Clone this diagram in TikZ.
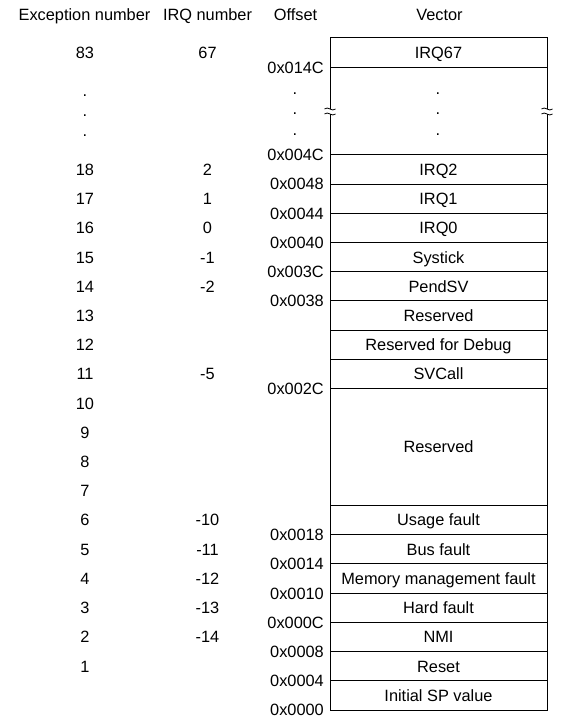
\documentclass[tikz,border=0pt]{standalone}
\usepackage{fontspec}
\setmainfont{Liberation Sans}
\newcommand\vcell[4]{%
  \pgfmathsetmacro\vcY{38+(#2+#3/2)*29.2174}%
  \pgfmathsetmacro\vcH{#3*29.2174}%
  \node[cellbox, minimum height=\vcH bp] (#1) at (438.5,\vcY) {#4};}
\newcommand\brk[1]{%
  \fill[white] (#1-3,109.2) rectangle (#1+3,113.8);
  \draw[brkline] (#1-5.5,109) sin (#1-2.75,108) cos (#1,109) sin (#1+2.75,110) cos (#1+5.5,109);
  \draw[brkline] (#1-5.5,114) sin (#1-2.75,113) cos (#1,114) sin (#1+2.75,115) cos (#1+5.5,114);}
\begin{document}
\begin{tikzpicture}[x=1bp,y=-1bp,
  font=\fontsize{16.4}{20}\selectfont,
  lbl/.style={inner sep=0pt, text height=11.8bp, text depth=0pt},
  cellbox/.style={draw, line width=1bp, minimum width=217bp, inner sep=0pt, text height=11.8bp, text depth=0pt},
  brkline/.style={line width=0.8bp},
  dotlbl/.style={inner sep=0pt, anchor=base}]
\useasboundingbox (0,0) rectangle (564,724);
% headers
\node[lbl] (hexc) at (84.5,15) {Exception number};
\node[lbl] (hirq) at (207.5,15) {IRQ number};
\node[lbl] (hoff) at (295.5,15) {Offset};
\node[lbl] (hvec) at (439.5,15) {Vector};
% vector table
\vcell{v0}{0}{1}{IRQ67}
\vcell{vgap}{1}{3}{}
\vcell{v4}{4}{1}{IRQ2}
\vcell{v5}{5}{1}{IRQ1}
\vcell{v6}{6}{1}{IRQ0}
\vcell{v7}{7}{1}{Systick}
\vcell{v8}{8}{1}{PendSV}
\vcell{v9}{9}{1}{Reserved}
\vcell{v10}{10}{1}{Reserved for Debug}
\vcell{v11}{11}{1}{SVCall}
\vcell{v12}{12}{4}{Reserved}
\vcell{v16}{16}{1}{Usage fault}
\vcell{v17}{17}{1}{Bus fault}
\vcell{v18}{18}{1}{Memory management fault}
\vcell{v19}{19}{1}{Hard fault}
\vcell{v20}{20}{1}{NMI}
\vcell{v21}{21}{1}{Reset}
\vcell{v22}{22}{1}{Initial SP value}
% break marks
\brk{330}
\brk{547}
% dots
\foreach \y [count=\i] in {93,113,134}{
  \node[dotlbl] (voffdot\i) at (295,\y+1.2) {.};
  \node[dotlbl] (vvecdot\i) at (438,\y+1.2) {.};
}
\foreach \y [count=\i] in {95,115,135}{
  \node[dotlbl] (excdot\i) at (85,\y+1.2) {.};
}
% exception numbers
\foreach \r/\t in {0/83,4/18,5/17,6/16,7/15,8/14,9/13,10/12,11/11,12/10,13/9,14/8,15/7,16/6,17/5,18/4,19/3,20/2,21/1}
  \node[lbl] (exc\t) at (85,{38+(\r+0.5)*29.2174}) {\t};
% IRQ numbers
\foreach \r/\t in {0/67,4/2,5/1,6/0,7/-1,8/-2,11/-5,16/-10,17/-11,18/-12,19/-13,20/-14}
  \node[lbl] (irq\r) at (207.5,{38+(\r+0.5)*29.2174}) {\t};
% offsets
\foreach \k/\t in {1/0x014C,4/0x004C,5/0x0048,6/0x0044,7/0x0040,8/0x003C,9/0x0038,12/0x002C,17/0x0018,18/0x0014,19/0x0010,20/0x000C,21/0x0008,22/0x0004,23/0x0000}
  \node[lbl, anchor=east] (off\k) at (324,{38+\k*29.2174}) {\t};
\end{tikzpicture}
\end{document}
